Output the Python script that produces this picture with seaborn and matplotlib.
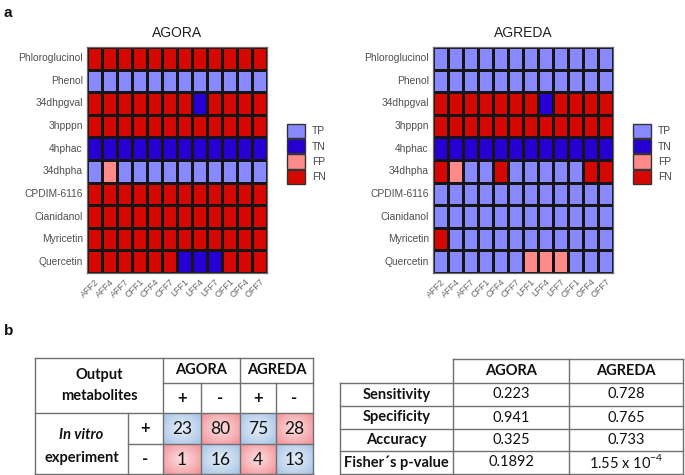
import numpy as np
import pandas as pd
import matplotlib
matplotlib.use('Agg')
import matplotlib.pyplot as plt
import seaborn as sns
from matplotlib.colors import ListedColormap, to_rgb
from matplotlib.patches import Patch

# data
SAMPLES = ['AFF2', 'AFF4', 'AFF7', 'CFF1', 'CFF4', 'CFF7',
           'LFF1', 'LFF4', 'LFF7', 'OFF1', 'OFF4', 'OFF7']
METABOLITES = ['Phloroglucinol', 'Phenol', '34dhpgval', '3hpppn', '4hphac',
               '34dhpha', 'CPDIM-6116', 'Cianidanol', 'Myricetin', 'Quercetin']
CLASSES = ['TP', 'TN', 'FP', 'FN']
CLASS_COLORS = ['#8888ff', '#2600d2', '#ff8a8a', '#d40800']

# 0=TP 1=TN 2=FP 3=FN
AGORA = [
    [3, 3, 3, 3, 3, 3, 3, 3, 3, 3, 3, 3],
    [0, 0, 0, 0, 0, 0, 0, 0, 0, 0, 0, 0],
    [3, 3, 3, 3, 3, 3, 3, 1, 3, 3, 3, 3],
    [3, 3, 3, 3, 3, 3, 3, 3, 3, 3, 3, 3],
    [1, 1, 1, 1, 1, 1, 1, 1, 1, 1, 1, 1],
    [0, 2, 0, 0, 0, 0, 0, 0, 0, 0, 0, 0],
    [3, 3, 3, 3, 3, 3, 3, 3, 3, 3, 3, 3],
    [3, 3, 3, 3, 3, 3, 3, 3, 3, 3, 3, 3],
    [3, 3, 3, 3, 3, 3, 3, 3, 3, 3, 3, 3],
    [3, 3, 3, 3, 3, 3, 1, 1, 1, 3, 3, 3],
]
AGREDA = [
    [0, 0, 0, 0, 0, 0, 0, 0, 0, 0, 0, 0],
    [0, 0, 0, 0, 0, 0, 0, 0, 0, 0, 0, 0],
    [3, 3, 3, 3, 3, 3, 3, 1, 3, 3, 3, 3],
    [3, 3, 3, 3, 3, 3, 3, 3, 3, 3, 3, 3],
    [1, 1, 1, 1, 1, 1, 1, 1, 1, 1, 1, 1],
    [3, 2, 0, 0, 3, 0, 0, 0, 0, 0, 3, 3],
    [0, 0, 0, 0, 0, 0, 0, 0, 0, 0, 0, 0],
    [0, 0, 0, 0, 0, 0, 0, 0, 0, 0, 0, 0],
    [3, 0, 0, 0, 0, 0, 0, 0, 0, 0, 0, 0],
    [0, 0, 0, 0, 0, 0, 2, 2, 2, 0, 0, 0],
]

MODELS = ['AGORA', 'AGREDA']
# contingency: rows in vitro +/-, cols predicted +/-
AGORA_COUNTS = [[23, 80], [1, 16]]
AGREDA_COUNTS = [[75, 28], [4, 13]]
METRIC_NAMES = ['Sensitivity', 'Specificity', 'Accuracy', 'Fisher\u00b4s p-value']
AGORA_METRICS = ['0.223', '0.941', '0.325', '0.1892']
AGREDA_METRICS = ['0.728', '0.765', '0.733', '1.55 x 10$^{-4}$']

W, H = 685, 475
plt.rcParams['font.family'] = ['Liberation Sans', 'DejaVu Sans']
plt.rcParams['mathtext.fontset'] = 'custom'
plt.rcParams['mathtext.rm'] = 'Lato'
fig = plt.figure(figsize=(W / 100, H / 100), dpi=100)


def fx(px):
    return px / W


def fy(py):
    return 1 - py / H


cmap = ListedColormap(CLASS_COLORS)

# panel a: heatmaps
for grid, name, left, leg_x in [(AGORA, 'AGORA', 87, 287), (AGREDA, 'AGREDA', 433, 633)]:
    ax = fig.add_axes([fx(left), fy(273), 180 / W, 226 / H])
    df = pd.DataFrame(grid, index=METABOLITES, columns=SAMPLES)
    sns.heatmap(df, ax=ax, cmap=cmap, vmin=-0.5, vmax=3.5, cbar=False,
                linewidths=0.8, linecolor='#151515', xticklabels=True, yticklabels=True)
    for s in ax.spines.values():
        s.set_visible(True)
        s.set_color('#6a6a6a')
        s.set_linewidth(0.9)
    ax.set_title(name, fontsize=10, color='#222222', pad=7)
    ax.tick_params(length=0, pad=3)
    plt.setp(ax.get_yticklabels(), rotation=0, fontsize=7.4, color='#505050')
    plt.setp(ax.get_xticklabels(), rotation=45, ha='right', rotation_mode='anchor',
             fontsize=6.5, color='#666666')
    ax.set_xlabel('')
    ax.set_ylabel('')
    handles = [Patch(facecolor=c, edgecolor='#333333', linewidth=1, label=l)
               for c, l in zip(CLASS_COLORS, CLASSES)]
    ax.legend(handles=handles, loc='upper left', bbox_to_anchor=(fx(leg_x), fy(124)),
              bbox_transform=fig.transFigure, frameon=False, fontsize=7.4,
              handlelength=1.75, handleheight=1.75, labelspacing=0.1,
              handletextpad=0.7, borderpad=0, borderaxespad=0, labelcolor='#444444')

fig.text(fx(4), fy(17), 'a', fontsize=11, fontweight='bold', color='#111111')
fig.text(fx(4), fy(335), 'b', fontsize=11, fontweight='bold', color='#111111')

# panel b: tables
axb = fig.add_axes([0, 0, 1, 1])
axb.set_xlim(0, W)
axb.set_ylim(H, 0)
axb.axis('off')

LINE = '#707070'
TFONT = 'Lato'


def hline(y, x0, x1, lw=1.0):
    axb.plot([x0, x1], [y, y], color=LINE, lw=lw, solid_capstyle='projecting')


def vline(x, y0, y1, lw=1.0):
    axb.plot([x, x], [y0, y1], color=LINE, lw=lw, solid_capstyle='projecting')


def gradient_cell(x0, x1, y0, y1, color):
    n = 60
    xx, yy = np.meshgrid(np.linspace(-1, 1, n), np.linspace(-1, 1, n))
    r = np.clip(np.sqrt(xx ** 2 + yy ** 2) / np.sqrt(2), 0, 1)
    t = 0.3 + 0.7 * r ** 1.1
    edge = np.array(to_rgb(color))
    img = (1 - t[..., None]) * np.ones(3) + t[..., None] * edge
    axb.imshow(img, extent=(x0, x1, y1, y0), aspect='auto', interpolation='bilinear', zorder=1)


# left table (confusion counts)
cx = [35, 128, 163, 201, 240, 276, 313]
ry = [358, 383, 413, 444, 474]
BLUE = '#a4c2e6'
RED = '#f28e94'
for m, counts in enumerate([AGORA_COUNTS, AGREDA_COUNTS]):
    for i in range(2):
        for j in range(2):
            c = 2 + 2 * m + j
            x0, x1, y0, y1 = cx[c], cx[c + 1], ry[2 + i], ry[3 + i]
            gradient_cell(x0, x1, y0, y1, BLUE if i == j else RED)
            axb.text((x0 + x1) / 2, (y0 + y1) / 2 + 1, str(counts[i][j]), ha='center',
                     va='center', fontsize=12.5, family=TFONT, color='#111111', zorder=3)
    xm = (cx[2 + 2 * m] + cx[4 + 2 * m]) / 2
    axb.text(xm, (ry[0] + ry[1]) / 2, MODELS[m], ha='center', va='center', fontsize=10.5,
             fontweight='bold', family=TFONT, color='#111111')
    for j, sign in enumerate(['+', '-']):
        c = 2 + 2 * m + j
        axb.text((cx[c] + cx[c + 1]) / 2, (ry[1] + ry[2]) / 2, sign, ha='center',
                 va='center', fontsize=12, fontweight='bold', family=TFONT, color='#111111')

axb.text((cx[0] + cx[2]) / 2, (ry[0] + ry[2]) / 2, 'Output\nmetabolites', ha='center',
         va='center', fontsize=10.5, fontweight='bold', family=TFONT, color='#111111',
         linespacing=1.55)
axb.text((cx[0] + cx[1]) / 2, ry[2] + 22, 'In vitro', ha='center', va='center',
         fontsize=10.5, fontweight='bold', style='italic', family=TFONT, color='#111111')
axb.text((cx[0] + cx[1]) / 2, ry[2] + 45, 'experiment', ha='center', va='center',
         fontsize=10.5, fontweight='bold', family=TFONT, color='#111111')
for i, sign in enumerate(['+', '-']):
    axb.text((cx[1] + cx[2]) / 2, (ry[2 + i] + ry[3 + i]) / 2, sign, ha='center',
             va='center', fontsize=12, fontweight='bold', family=TFONT, color='#111111')

hline(ry[0], cx[0], cx[-1])
hline(ry[1], cx[2], cx[-1])
hline(ry[2], cx[0], cx[-1])
hline(ry[3], cx[1], cx[-1])
hline(ry[4], cx[0], cx[-1])
vline(cx[0], ry[0], ry[4])
vline(cx[1], ry[2], ry[4])
vline(cx[2], ry[0], ry[4])
vline(cx[3], ry[1], ry[4])
vline(cx[4], ry[0], ry[4])
vline(cx[5], ry[1], ry[4])
vline(cx[6], ry[0], ry[4])

# right table (metrics)
mx = [340, 453, 569, 683]
my = [359, 383, 406, 429, 451, 474]
for j, name in enumerate(MODELS):
    axb.text((mx[1 + j] + mx[2 + j]) / 2, (my[0] + my[1]) / 2, name, ha='center',
             va='center', fontsize=10.5, fontweight='bold', family=TFONT, color='#111111')
for i, name in enumerate(METRIC_NAMES):
    yc = (my[1 + i] + my[2 + i]) / 2
    axb.text((mx[0] + mx[1]) / 2, yc, name, ha='center', va='center', fontsize=10.5,
             fontweight='bold', family=TFONT, color='#111111')
    for j, vals in enumerate([AGORA_METRICS, AGREDA_METRICS]):
        axb.text((mx[1 + j] + mx[2 + j]) / 2, yc, vals[i], ha='center', va='center',
                 fontsize=10.5, family=TFONT, color='#111111')

hline(my[0], mx[1], mx[-1])
for y in my[1:]:
    hline(y, mx[0], mx[-1])
vline(mx[0], my[1], my[-1])
for x in mx[1:]:
    vline(x, my[0], my[-1])

fig.savefig('out.png', dpi=100)
